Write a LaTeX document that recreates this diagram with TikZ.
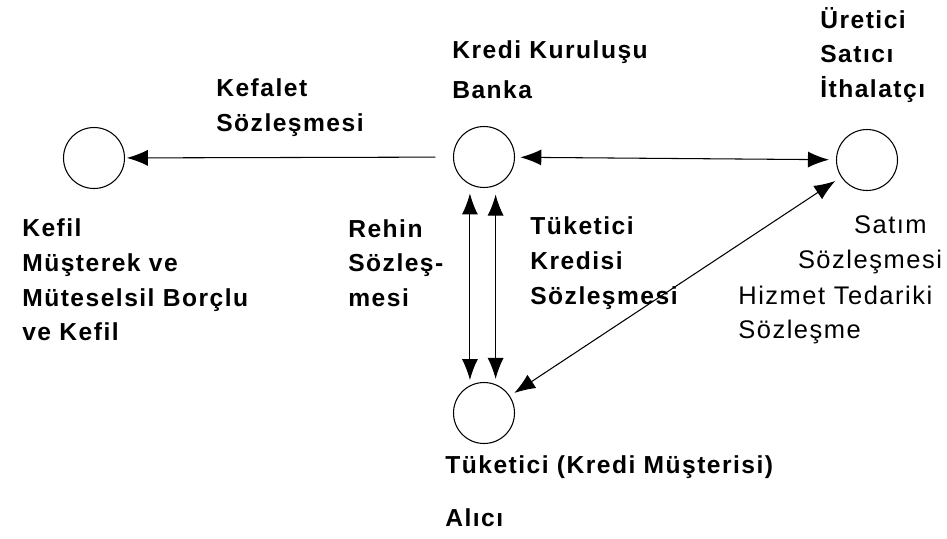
\documentclass[tikz,border=0pt]{standalone}
\usepackage{fontspec}
\setmainfont[LetterSpace=6]{Liberation Sans}
\usetikzlibrary{arrows.meta}
\begin{document}
\begin{tikzpicture}[x=0.02cm,y=-0.02cm,
        party/.style={draw=black,circle,minimum size=1.22cm,inner sep=0,line width=0.6pt},
        lbl/.style={anchor=west,align=left,inner sep=0,font=\fontsize{14}{19.8}\selectfont\bfseries},
        thin lbl/.style={lbl,font=\fontsize{14.5}{19.8}\selectfont},
        tip/.tip={Latex[length=4.2mm,width=3.2mm]},
        rel/.style={line width=0.6pt,-tip},
        birel/.style={line width=0.6pt,tip-tip}
      ]
      \useasboundingbox (0,0) rectangle (947,538);
      % the four parties
      \node[party] (kefil) at (94,158) {};
      \node[party] (banka) at (484,157) {};
      \node[party] (uretici) at (867,160) {};
      \node[party] (tuketici) at (484,413) {};
      % labels of the parties
      \node[lbl] (bankaLbl) at (452,70) {Kredi Kuruluşu\\[1mm]Banka};
      \node[lbl] (ureticiLbl) at (820,55) {Üretici\\Satıcı\\İthalatçı};
      \node[lbl] (kefilLbl) at (22,280) {Kefil\\Müşterek ve\\Müteselsil Borçlu\\ve Kefil};
      \node[lbl] (tuketiciLbl) at (445,491) {Tüketici (Kredi Müşterisi)\\[3.6mm]Alıcı};
      % labels of the contracts
      \node[lbl] (kefalet) at (216,108) {Kefalet\\Sözleşmesi};
      \node[lbl] (rehin) at (348,263) {Rehin\\Sözleş-\\mesi};
      \node[lbl] (kredi) at (530,263) {Tüketici\\Kredisi\\Sözleşmesi};
      \node[thin lbl,align=center,anchor=center] (satim) at (870,245) {\hspace*{1.6em}Satım\\Sözleşmesi};
      \node[thin lbl] (hizmet) at (738,315) {Hizmet Tedariki\\Sözleşme};
      % contracts between the parties
      \draw[rel,shorten <=10pt,shorten >=1pt] (banka) -- (kefil);
      \draw[birel,shorten <=3pt,shorten >=4pt] (banka) -- (uretici);
      \draw[birel,shorten <=5pt,shorten >=3pt] (banka.-117) -- (tuketici.117);
      \draw[birel,shorten <=5pt,shorten >=3pt] (banka.-68) -- (tuketici.68);
      \draw[birel,shorten <=3pt,shorten >=4pt] (tuketici) -- (uretici);
    \end{tikzpicture}
\end{document}
